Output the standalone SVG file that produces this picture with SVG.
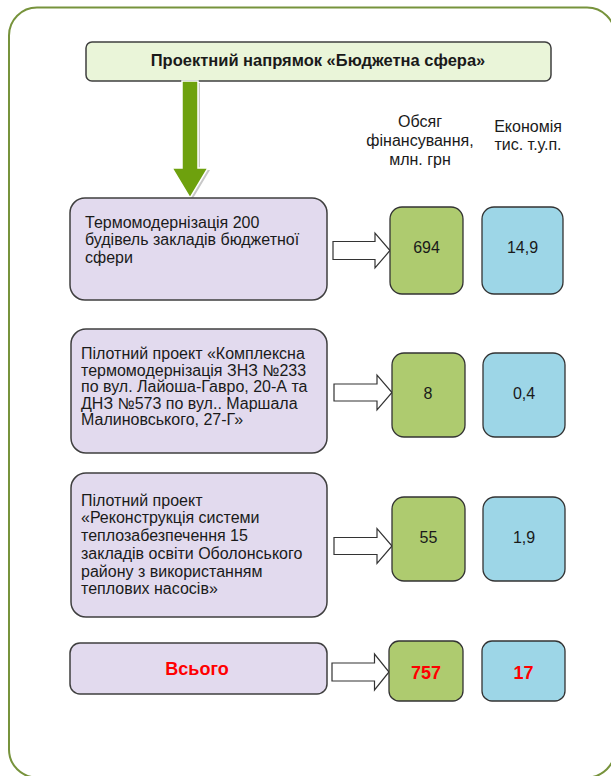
<svg xmlns="http://www.w3.org/2000/svg" width="611" height="776" viewBox="0 0 611 776">
<defs>
<style>
.t{font-family:"Liberation Sans",Arial,sans-serif;font-size:16px;fill:#1a1a1a}
.c{text-anchor:middle}
.b{font-weight:bold;font-size:16.5px}
.red{fill:#ff0000;font-weight:bold;font-size:18px}
.lav{fill:#e2daee;stroke:#3f3f3f;stroke-width:1.5}
.grn{fill:#aecb6f;stroke:#333;stroke-width:1.3}
.blu{fill:#9dd6e7;stroke:#333;stroke-width:1.3}
.blk{fill:#fff;stroke:#333;stroke-width:1.2}
</style>
</defs>
<rect x="9" y="7.5" width="606" height="770" rx="28" fill="#fff" stroke="#77933c" stroke-width="2"/>
<g id="header">
<rect x="86" y="42" width="465" height="39" rx="6" fill="#eaf5d9" stroke="#3f3f3f" stroke-width="1.5"/>
<text class="t b c" x="318" y="65.5">Проектний напрямок «Бюджетна сфера»</text>
</g>
<g id="col-headers">
<text class="t c" x="420" y="127">Обсяг</text>
<text class="t c" x="420" y="146">фінансування,</text>
<text class="t c" x="420" y="165">млн. грн</text>
<text class="t c" x="528" y="132">Економія</text>
<text class="t c" x="528" y="150">тис. т.у.п.</text>
</g>
<g id="connectors">
<polygon points="184,83 200,83 200,170 210,170 192,200 174,170 184,170" fill="#c8c8c8"/>
<polygon points="182,81 198,81 198,168 208,168 190,198 172,168 182,168" fill="#6ea10e" stroke="#fff" stroke-width="1.5"/>
<polygon class="blk" points="333,241.5 375,241.5 375,233 390,250.5 375,268 375,259.5 333,259.5"/>
<polygon class="blk" points="334,384 377,384 377,375 392,392.5 377,410 377,401 334,401"/>
<polygon class="blk" points="334,537.5 377,537.5 377,528.5 392,546 377,563.5 377,554.5 334,554.5"/>
<polygon class="blk" points="332,663 374.5,663 374.5,654 389,672 374.5,690 374.5,681 332,681"/>
</g>
<g id="row1">
<rect class="lav" x="70" y="198" width="257" height="102" rx="15"/>
<text class="t" x="85" y="227.5">Термомодернізація 200</text>
<text class="t" x="85" y="245">будівель закладів бюджетної</text>
<text class="t" x="85" y="262.5">сфери</text>
</g>
<g id="fin1"><rect class="grn" x="390" y="207" width="73" height="87" rx="12"/><text class="t c" x="426.5" y="253">694</text></g>
<g id="eco1"><rect class="blu" x="482" y="207" width="81" height="87" rx="12"/><text class="t c" x="522.5" y="253">14,9</text></g>
<g id="row2">
<rect class="lav" x="71" y="329" width="256" height="124" rx="15"/>
<text class="t" x="81" y="359">Пілотний проект «Комплексна</text>
<text class="t" x="81" y="375.5">термомодернізація ЗНЗ №233</text>
<text class="t" x="81" y="392">по вул. Лайоша-Гавро, 20-А та</text>
<text class="t" x="81" y="408.5">ДНЗ №573 по вул.. Маршала</text>
<text class="t" x="81" y="425">Малиновського, 27-Г»</text>
</g>
<g id="fin2"><rect class="grn" x="392" y="353" width="73" height="84" rx="12"/><text class="t c" x="428" y="399">8</text></g>
<g id="eco2"><rect class="blu" x="483" y="353" width="82" height="84" rx="12"/><text class="t c" x="524" y="399">0,4</text></g>
<g id="row3">
<rect class="lav" x="71" y="473" width="256" height="144" rx="15"/>
<text class="t" x="81" y="505.5">Пілотний проект</text>
<text class="t" x="81" y="523.2">«Реконструкція системи</text>
<text class="t" x="81" y="541">теплозабезпечення 15</text>
<text class="t" x="81" y="558.7">закладів освіти Оболонського</text>
<text class="t" x="81" y="576.5">району з використанням</text>
<text class="t" x="81" y="594">теплових насосів»</text>
</g>
<g id="fin3"><rect class="grn" x="392" y="497" width="73" height="84" rx="12"/><text class="t c" x="428.5" y="543">55</text></g>
<g id="eco3"><rect class="blu" x="483" y="497" width="82" height="84" rx="12"/><text class="t c" x="524" y="543">1,9</text></g>
<g id="total">
<rect class="lav" x="70" y="643" width="257" height="51" rx="10"/>
<text class="t c red" x="197" y="674.5">Всього</text>
</g>
<g id="fin-total"><rect class="grn" x="389" y="641" width="74" height="60" rx="10"/><text class="t c red" x="426" y="678.5">757</text></g>
<g id="eco-total"><rect class="blu" x="482" y="641" width="83" height="60" rx="10"/><text class="t c red" x="523.5" y="678.5">17</text></g>
</svg>
